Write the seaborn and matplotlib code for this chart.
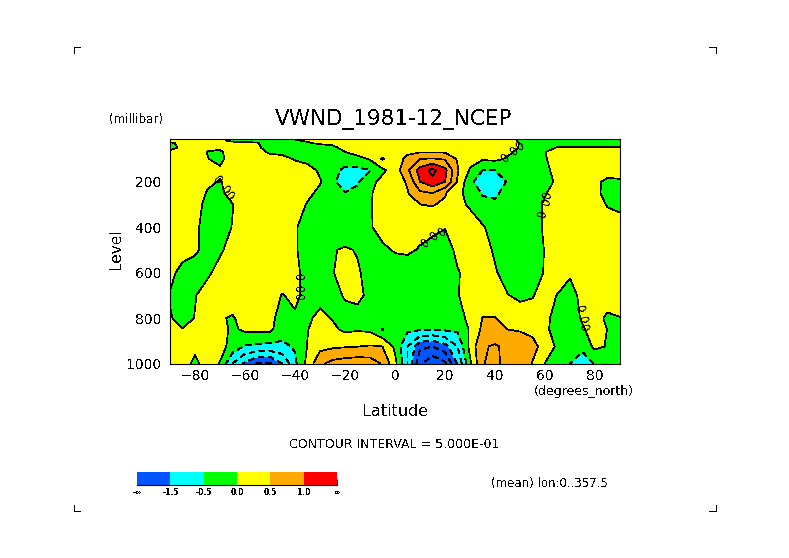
import numpy as np
import matplotlib
matplotlib.use("Agg")
import matplotlib.pyplot as plt
import seaborn as sns
from matplotlib.colors import ListedColormap
from matplotlib.lines import Line2D
from matplotlib.ticker import MultipleLocator

# zonal mean v-wind
lats = list(range(-90, 95, 5))
levels = [10, 20, 30, 50, 70, 100, 150, 200, 250, 300, 400, 500, 600, 700, 800, 850, 925, 1000]

v_10 = [.1, .1, .1, .1, .05, -.05, -.05, -.05, -.1, -.05, .05, .1, .1, .1, .1, .1, .1, .05, -.02, -.02, -.02, -.02, .05, .1, .1, .1, .1, .1, -.05, -.1, -.1, -.1, -.1, -.1, -.1, -.1, -.1]
v_20 = [.1, .1, .1, .1, .05, -.05, -.05, -.1, -.2, -.15, -.05, .05, .1, .1, .1, .1, .1, .1, .05, .05, .05, .05, .1, .1, .1, .1, .1, .1, -.03, -.2, -.2, -.15, -.15, -.15, -.15, -.15, -.15]
v_30 = [-.05, .08, .1, .1, .1, .08, .05, .02, -.2, -.25, -.2, -.05, .1, .1, .1, .1, .1, .1, .1, .1, .1, .1, .1, .1, .1, .1, .1, .1, -.01, -.25, -.3, -.2, -.2, -.2, -.2, -.2, -.15]
v_50 = [-.15, .1, .2, .1, .1, .2, .25, .1, -.25, -.3, -.3, -.3, -.3, -.1, .15, .2, .25, .25, .25, .3, .3, .3, .3, .3, .25, .25, .25, .2, -.03, -.3, -.2, .03, .03, .03, .02, .03, .03]
v_70 = [.1, .05, .3, -.02, -.1, .3, .3, .2, -.1, -.15, -.2, -.2, -.2, -.15, -.01, .2, .3, .3, .3, .4, .48, .48, .46, .35, .3, .3, .3, .08, -.1, -.3, -.01, .3, .3, .3, .3, .3, .3]
v_100 = [.1, .15, .3, .02, -.15, .3, .3, .3, .3, .2, -.05, -.2, -.25, -.3, -.3, -.2, .05, .55, .2, .65, 1.0, 1.05, .95, .45, .15, .05, .1, -.05, -.15, -.25, -.03, .15, .3, .3, .3, .3, .3]
v_150 = [.2, .25, .3, .3, .1, .35, .35, .35, .35, .35, .35, .25, -.1, -.35, -.6, -.6, -.52, -.1, .25, .9, 1.7, 2.15, 1.65, .55, -.05, -.5, -.5, -.35, -.2, -.25, -.1, .15, .35, .35, .3, .3, .3]
v_200 = [.3, .3, .35, .1, -.03, .2, .4, .4, .4, .4, .4, .3, .05, -.4, -.75, -.55, -.15, .15, .3, .55, 1.5, 1.85, 1.5, .45, -.35, -.85, -.9, -.45, -.25, -.25, -.2, .1, .3, .35, .15, -.15, -.1]
v_250 = [.3, .35, .3, -.05, -.1, .2, .4, .4, .4, .4, .4, .15, -.15, -.45, -.48, -.4, -.05, .2, .35, .47, .9, 1.0, .55, .1, -.15, -.55, -.6, -.3, -.3, -.25, -.05, .3, .4, .4, .15, -.2, -.2]
v_300 = [.3, .35, .2, -.15, -.25, -.02, .3, .4, .4, .4, .3, -.05, -.25, -.3, -.3, -.3, -.05, .25, .3, .35, .5, .53, .42, .2, -.1, -.35, -.4, -.3, -.3, -.3, .1, .3, .4, .4, .3, -.05, -.2]
v_400 = [.3, .3, .1, -.2, -.2, .02, .3, .35, .35, .35, .05, -.2, -.3, -.3, -.3, -.3, -.05, .2, .3, .35, .2, .18, .02, .3, .35, .05, -.2, -.35, -.4, -.3, .1, .3, .35, .35, .35, .35, .35]
v_500 = [.3, .3, .1, -.2, -.08, .2, .35, .35, .35, .35, .05, -.2, -.25, -.03, .05, -.03, -.2, -.1, .05, .1, -.05, -.25, -.2, .1, .25, .2, -.07, -.3, -.35, -.3, .03, .3, .35, .35, .35, .35, .3]
v_600 = [.2, -.25, -.3, -.1, .2, .3, .3, .3, .3, .25, .1, -.15, -.2, -.02, .15, .05, -.15, -.25, -.3, -.35, -.35, -.35, -.3, -.03, .13, .2, .05, -.2, -.3, -.3, .05, .3, .07, .3, .3, .3, .3]
v_700 = [-.05, -.3, -.03, .25, .3, .3, .3, .25, .15, -.02, .1, -.15, -.2, -.2, .06, .1, -.1, -.3, -.3, -.35, -.35, -.35, -.3, -.02, .15, .2, .25, .02, -.1, -.03, .2, -.02, -.2, .15, .3, .3, .2]
v_800 = [.05, -.2, .02, .3, .05, -.05, .2, .25, .1, -.15, -.06, -.1, .15, -.03, -.2, -.15, -.25, -.3, -.3, -.3, -.3, -.3, -.3, -.15, .1, .51, .51, .35, .25, .2, .2, -.3, -.4, .1, .2, -.1, -.01]
v_850 = [.2, .02, .1, .25, .2, -.1, .1, .1, .1, -.3, -.3, -.02, .25, .1, -.1, -.05, -.1, -.52, -.2, -.4, -.45, -.47, -.42, -.4, .05, .6, .7, .5, .45, .4, .1, -.2, -.35, -.1, .4, -.02, -.3]
v_925 = [.3, .3, .1, .3, .2, -.2, -.55, -.6, -.65, -.6, -.45, .02, .35, .42, .46, .49, .54, .5, -.1, -1.0, -1.9, -2.0, -1.7, -1.0, .15, .95, 1.05, .9, .85, .62, .35, -.1, -.3, -.3, .1, -.03, -.3]
v_1000 = [.25, .2, -.1, .2, -.03, -1.0, -1.6, -2.05, -2.05, -1.48, -.6, .15, .9, 1.15, 1.25, 1.3, 1.25, .95, .15, -1.0, -2.4, -2.9, -2.6, -1.45, -.1, .98, 1.1, .85, .8, .48, -.01, -.3, -.5, -.9, -.45, -.2, -.2]

fill_levels = [-100, -1.5, -0.5, 0.0, 0.5, 1.5, 100]
line_levels = [-2.5, -2.0, -1.5, -1.0, -0.5, 0.0, 0.5, 1.0, 1.5, 2.0]
fill_colors = ["#0055ff", "#00ffff", "#00ff00", "#ffff00", "#ffaa00", "#ff0000"]
bar_labels = ["-\u221e", "-1.5", "-0.5", "0.0", "0.5", "1.0", "\u221e"]

# where the little "0" line labels sit
label_lats = [-70.9, -68, -66.3, -37.5, -37.5, -37.5, 12.4, 16, 19, 44.4, 48, 50.3, 61.3, 60.7, 59, 73.9, 75, 75.5]
label_levels = [196, 238, 266, 613, 663, 699, 470, 439, 420, 97, 64, 42, 255, 288, 338, 759, 808, 845]
label_rots = [-50, -50, -50, 90, 90, 90, 40, 40, 40, 40, 40, 40, 75, 75, 75, -80, -80, -80]

field = np.array([v_10, v_20, v_30, v_50, v_70, v_100, v_150, v_200, v_250, v_300,
                  v_400, v_500, v_600, v_700, v_800, v_850, v_925, v_1000])

sns.set_style("white")
plt.rcParams["text.antialiased"] = False
plt.rcParams["lines.antialiased"] = False
plt.rcParams["font.family"] = ["DejaVu Sans"]
W, H = 789, 558
fig = plt.figure(figsize=(W / 100, H / 100), dpi=100)
ax = fig.add_axes([170 / W, 1 - 363.5 / H, 450 / W, 225 / H])

ax.contourf(lats, levels, field, levels=fill_levels, colors=fill_colors, antialiased=False)
ax.contour(lats, levels, field, levels=line_levels, colors="k", linewidths=0.5, antialiased=False,
           negative_linestyles=(0, (8, 6)))
for la, lv, rot in zip(label_lats, label_levels, label_rots):
    ax.text(la, lv, "0", fontsize=8.5, rotation=rot, ha="center", va="center", color="k")

ax.set_xlim(-90, 90)
ax.set_ylim(1000, 10)
ax.xaxis.set_major_locator(MultipleLocator(20))
ax.xaxis.set_minor_locator(MultipleLocator(5))
ax.yaxis.set_major_locator(MultipleLocator(200))
ax.yaxis.set_minor_locator(MultipleLocator(50))
ax.set_yticks([200, 400, 600, 800, 1000])
ax.tick_params(which="major", direction="in", length=5, width=0.6, top=True, right=True,
               left=True, bottom=True, labelsize=10, colors="k")
ax.tick_params(axis="x", which="major", pad=4)
ax.tick_params(axis="y", which="major", pad=6)
ax.tick_params(which="minor", direction="in", length=2.5, width=0.6, top=True, right=True,
               left=True, bottom=True)
for spine in ax.spines.values():
    spine.set_linewidth(0.8)
    spine.set_color("k")

fig.text(394 / W, 1 - 120 / H, "VWND_1981-12_NCEP", fontsize=15.5, ha="center", va="center", color="k")
fig.text(135.5 / W, 1 - 119 / H, "(millibar)", fontsize=8.5, ha="center", va="center", color="k")
fig.text(116 / W, 1 - 249 / H, "Level", fontsize=11, rotation=90, ha="center", va="center", color="k")
fig.text(395 / W, 1 - 411 / H, "Latitude", fontsize=11.5, ha="center", va="center", color="k")
fig.text(583.5 / W, 1 - 392 / H, "(degrees_north)", fontsize=9, ha="center", va="center", color="k")
fig.text(394 / W, 1 - 444 / H, "CONTOUR INTERVAL = 5.000E-01", fontsize=9, ha="center", va="center", color="k")
fig.text(549 / W, 1 - 483 / H, "(mean) lon:0..357.5", fontsize=8.5, ha="center", va="center", color="k")

# colour key under the plot
cax = fig.add_axes([137 / W, 1 - 485 / H, 200 / W, 13 / H])
sns.heatmap(np.arange(6).reshape(1, 6), cmap=ListedColormap(fill_colors), cbar=False,
            xticklabels=False, yticklabels=False, ax=cax)
cax.set_xticks(range(7))
cax.set_xticklabels(bar_labels, fontsize=5.5, fontweight="bold")
cax.tick_params(axis="x", direction="in", length=4, width=0.6, pad=2, colors="k", bottom=True)
cax.spines["bottom"].set_visible(True)
cax.spines["bottom"].set_linewidth(0.8)
cax.spines["bottom"].set_color("k")

# page corner marks
marks = [((74, 47), (80, 47)), ((74, 47), (74, 53)),
         ((716, 47), (709, 47)), ((716, 47), (716, 53)),
         ((74, 511), (80, 511)), ((74, 511), (74, 505)),
         ((716, 511), (709, 511)), ((716, 511), (716, 505))]
for (x0, y0), (x1, y1) in marks:
    fig.add_artist(Line2D([x0 / W, x1 / W], [1 - y0 / H, 1 - y1 / H], color="k", linewidth=0.6,
                          transform=fig.transFigure))

fig.savefig("out.png", dpi=100)
